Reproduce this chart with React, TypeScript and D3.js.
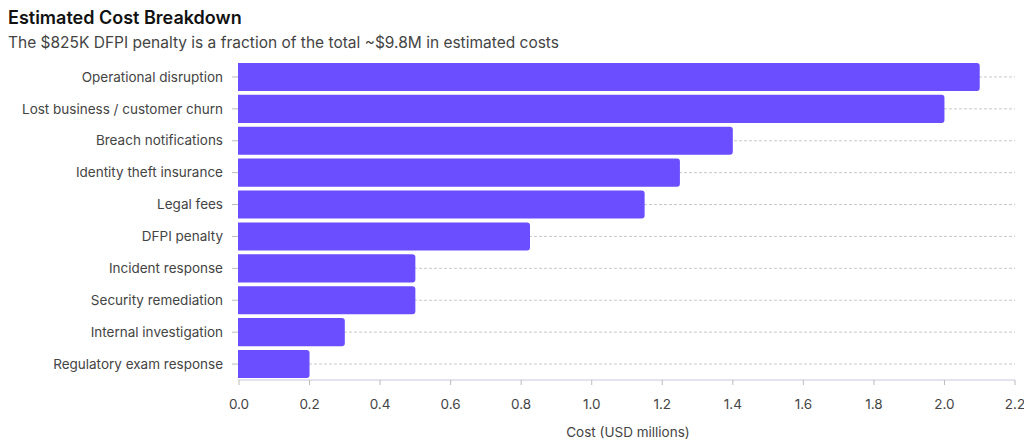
import React from "react";
import * as d3 from "d3";

const categories = ["Operational disruption","Lost business / customer churn","Breach notifications","Identity theft insurance","Legal fees","DFPI penalty","Incident response","Security remediation","Internal investigation","Regulatory exam response"];
const values = [2.1, 2.0, 1.4, 1.25, 1.15, 0.825, 0.5, 0.5, 0.3, 0.2];
const xTicks = [0,0.2,0.4,0.6,0.8,1.0,1.2,1.4,1.6,1.8,2.0,2.2];

export default function App() {
  const W = 1024, H = 446;
  const left = 239, right = 1015, top = 61, bottom = 380;
  const x = d3.scaleLinear().domain([0, 2.2]).range([left, right]);
  const y = d3.scaleBand<string>().domain(categories).range([top, bottom]).paddingInner(0.12).paddingOuter(0.06);
  const font = "Inter, 'Noto Sans', sans-serif";
  const bw = y.bandwidth();
  const r = 3;
  return (
    <svg width={W} height={H} style={{ position: "absolute", left: 0, top: 0, fontFamily: font }}>
      <text x={8} y={24} fontSize={18} fontWeight={600} fill="#111">Estimated Cost Breakdown</text>
      <text x={8} y={48} fontSize={15.5} fill="#444">The $825K DFPI penalty is a fraction of the total ~$9.8M in estimated costs</text>
      {categories.map((c) => {
        const cy = y(c)! + bw / 2;
        return (
          <g key={c}>
            <line x1={left} x2={right} y1={cy} y2={cy} stroke="#c8c8c8" strokeDasharray="3,2" />
            <line x1={232} x2={238} y1={cy} y2={cy} stroke="#bbb" />
            <text x={223} y={cy} dy="0.35em" textAnchor="end" fontSize={13.5} fill="#444">{c}</text>
          </g>
        );
      })}
      {categories.map((c, i) => {
        const x0 = x(0) - 1, x1 = x(values[i]), y0 = y(c)!, h = bw;
        const p = `M${x0},${y0}H${x1 - r}Q${x1},${y0} ${x1},${y0 + r}V${y0 + h - r}Q${x1},${y0 + h} ${x1 - r},${y0 + h}H${x0}Z`;
        return <path key={c} d={p} fill="#6b4eff" />;
      })}
      <line x1={left - 1} x2={right} y1={bottom} y2={bottom} stroke="#c9c6e0" />
      {xTicks.map((t) => (
        <g key={t}>
          <line x1={x(t)} x2={x(t)} y1={bottom} y2={bottom + 5} stroke="#bbb" />
          <text x={x(t)} y={409} textAnchor="middle" fontSize={13.5} fill="#444">{t.toFixed(1)}</text>
        </g>
      ))}
      <text x={(left + right) / 2 + 1} y={437} textAnchor="middle" fontSize={13.5} fill="#444">Cost (USD millions)</text>
    </svg>
  );
}
